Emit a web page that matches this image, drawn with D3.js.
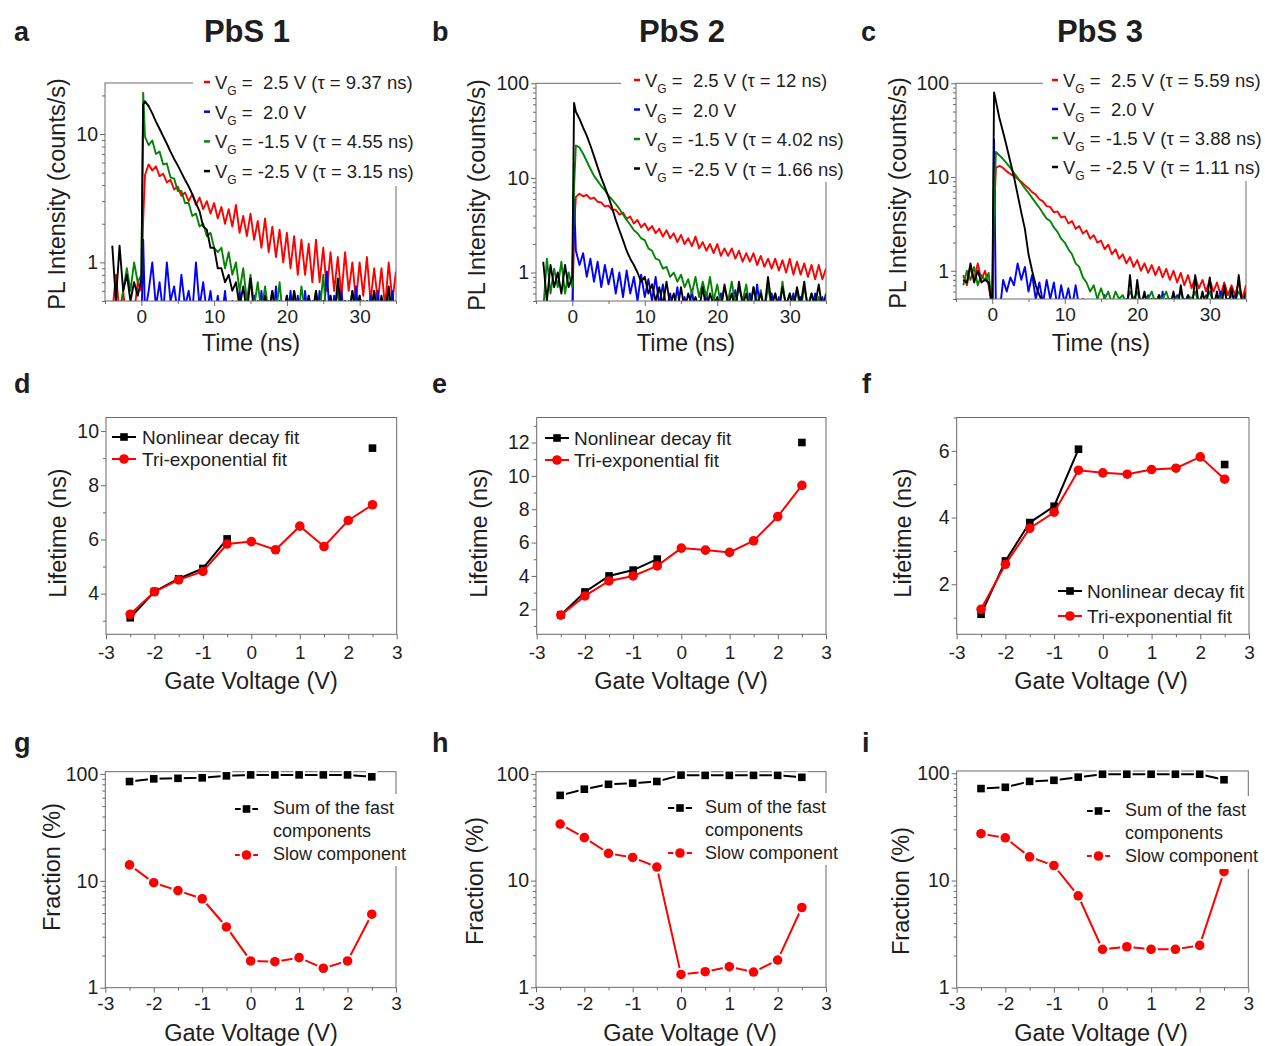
<!DOCTYPE html>
<html>
<head>
<meta charset="utf-8">
<script src="https://d3js.org/d3.v7.min.js"></script>
<style>
  body { margin: 0; background: #ffffff; }
  text { font-family: "Liberation Sans", Arial, sans-serif; fill: #1e1e1e; }
</style>
</head>
<body>
<svg width="1265" height="1046"></svg>
<script>
// ---------------- data ----------------

// time grid of the PL decay traces (ns)
const timeNs = d3.range(-4, 0.01, 0.5).concat([0.25], d3.range(0.5, 35.01, 0.5));

// PbS 1 decays (counts/s)
const pbs1Red = [
  0.4, 0.8, 0.4, 0.6, 0.3, 0.5, 0.4, 0.7, 0.6, 2.2,
  4.8, 5.8, 5.2, 5.6, 4.7, 4.9, 4.2, 4.4, 3.7, 3.9,
  3.3, 3.5, 3.0, 3.4, 2.8, 3.2, 2.6, 3.0, 2.4, 2.9,
  2.2, 2.7, 2.0, 2.6, 1.9, 2.8, 1.7, 2.3, 1.6, 2.4,
  1.5, 2.1, 1.3, 2.2, 1.2, 1.9, 1.1, 1.8, 1.0, 1.7,
  0.9, 1.6, 0.8, 1.5, 0.8, 1.4, 0.7, 1.5, 0.7, 1.3,
  0.6, 1.2, 0.6, 1.1, 0.55, 1.2, 0.6, 1.0, 0.5, 1.0,
  0.55, 1.1, 0.5, 0.9, 0.5, 0.9, 0.45, 1.0, 0.5, 0.85];
const pbs1Blue = [
  0.3, 0.3, 0.3, 0.3, 0.3, 0.3, 0.3, 0.3, 0.3, 1.5,
  0.4, 0.6, 1.0, 0.45, 0.7, 0.4, 1.0, 0.5, 0.65, 0.4,
  0.8, 0.45, 0.6, 0.4, 1.0, 0.45, 0.7, 0.4, 0.6, 0.35,
  0.55, 0.35, 0.6, 0.3, 0.5, 0.3, 0.6, 0.35, 0.45, 0.3,
  0.55, 0.3, 0.6, 0.3, 0.5, 0.3, 0.65, 0.3, 0.45, 0.3,
  0.6, 0.3, 0.55, 0.3, 0.6, 0.3, 0.5, 0.3, 0.6, 0.35,
  0.85, 0.3, 0.55, 0.3, 0.6, 0.3, 0.5, 0.3, 0.65, 0.3,
  0.5, 0.3, 0.55, 0.3, 0.6, 0.3, 0.5, 0.3, 0.6, 0.3];
const pbs1Green = [
  0.4, 0.5, 0.4, 0.6, 0.9, 0.6, 1.0, 0.7, 0.8, 21,
  9.5, 8.2, 8.9, 7.0, 7.3, 5.8, 5.9, 4.6, 4.5, 3.6,
  3.6, 2.9, 2.9, 2.3, 2.4, 1.9, 2.0, 1.6, 1.7, 1.3,
  1.2, 1.3, 0.9, 1.2, 0.8, 1.0, 0.6, 0.9, 0.5, 0.8,
  0.45, 0.7, 0.4, 0.65, 0.4, 0.6, 0.4, 0.7, 0.35, 0.55,
  0.4, 0.6, 0.35, 0.65, 0.4, 0.55, 0.35, 0.6, 0.4, 0.8,
  0.35, 0.55, 0.4, 0.6, 0.35, 0.5, 0.4, 0.6, 0.35, 0.55,
  0.4, 0.5, 0.35, 0.6, 0.4, 0.5, 0.35, 0.55, 0.4, 0.5];
const pbs1Black = [
  1.35, 0.5, 1.35, 0.6, 0.8, 0.5, 0.7, 0.55, 0.75, 17,
  18, 16.5, 14.5, 12.5, 11, 9.6, 8.4, 7.3, 6.4, 5.7,
  5.0, 4.4, 3.9, 3.4, 2.9, 2.5, 1.9, 1.8, 1.3, 1.3,
  0.9, 0.9, 0.7, 0.8, 0.6, 0.7, 0.45, 0.65, 0.4, 0.75,
  0.4, 0.5, 0.35, 0.55, 0.4, 0.6, 0.35, 0.5, 0.4, 0.55,
  0.35, 0.6, 0.4, 0.5, 0.35, 0.55, 0.4, 0.6, 0.35, 0.5,
  0.4, 0.55, 0.35, 0.75, 0.4, 0.5, 0.35, 0.6, 0.4, 0.55,
  0.35, 0.5, 0.4, 0.6, 0.35, 0.55, 0.4, 0.65, 0.35, 0.5];

// PbS 2 decays
const pbs2Red = [
  0.3, 0.4, 0.3, 0.35, 0.3, 0.4, 0.3, 0.35, 0.3, 3.0,
  6.3, 6.8, 6.4, 6.6, 6.0, 6.2, 5.6, 5.5, 5.0, 5.1,
  4.6, 4.6, 4.1, 4.3, 3.7, 3.9, 3.3, 3.6, 3.0, 3.3,
  2.8, 3.1, 2.6, 2.9, 2.4, 2.8, 2.3, 2.6, 2.1, 2.5,
  2.0, 2.3, 1.9, 2.4, 1.8, 2.1, 1.7, 2.0, 1.6, 2.0,
  1.5, 1.8, 1.5, 1.8, 1.4, 1.7, 1.3, 1.6, 1.3, 1.6,
  1.2, 1.5, 1.15, 1.4, 1.1, 1.4, 1.05, 1.35, 1.0, 1.4,
  0.95, 1.3, 0.95, 1.25, 0.9, 1.2, 0.85, 1.2, 0.85, 1.1];
const pbs2Blue = [
  0.3, 0.3, 0.3, 0.3, 0.3, 0.3, 0.3, 0.3, 0.3, 6.0,
  1.7, 1.2, 1.6, 0.9, 1.4, 0.8, 1.3, 0.7, 1.2, 0.75,
  1.1, 0.6, 1.0, 0.55, 1.05, 0.6, 0.9, 0.5, 0.95, 0.55,
  0.85, 0.5, 0.9, 0.45, 0.75, 0.4, 0.6, 0.4, 0.7, 0.35,
  0.55, 0.35, 0.65, 0.35, 0.5, 0.35, 0.6, 0.35, 0.55, 0.35,
  0.6, 0.35, 0.5, 0.35, 0.65, 0.35, 0.55, 0.35, 0.6, 0.35,
  0.75, 0.35, 0.5, 0.35, 0.6, 0.35, 0.55, 0.35, 0.5, 0.35,
  0.6, 0.35, 0.55, 0.35, 0.5, 0.35, 0.6, 0.35, 0.55, 0.35];
const pbs2Green = [
  0.4, 1.4, 0.6, 1.1, 0.7, 1.3, 0.6, 1.0, 0.7, 8,
  22, 21, 18, 15, 12.5, 10.5, 9.3, 8.2, 7.4, 6.5,
  5.9, 5.3, 4.7, 4.1, 3.6, 3.2, 2.8, 2.6, 2.3, 2.2,
  1.8, 1.7, 1.4, 1.35, 1.1, 1.15, 0.9, 1.0, 0.8, 0.95,
  0.7, 0.85, 0.6, 0.9, 0.55, 0.8, 0.55, 0.9, 0.5, 0.75,
  0.45, 0.7, 0.5, 0.8, 0.45, 0.7, 0.5, 0.75, 0.4, 0.7,
  0.45, 0.65, 0.4, 0.7, 0.45, 0.6, 0.4, 0.8, 0.4, 0.6,
  0.45, 0.65, 0.4, 0.7, 0.45, 0.6, 0.4, 0.55, 0.4, 0.5];
const pbs2Black = [
  1.3, 0.5, 1.2, 0.7, 1.0, 0.6, 1.2, 0.7, 0.9, 62,
  50, 42, 34, 28, 22, 17, 13, 10, 8, 6.3,
  4.8, 3.6, 2.8, 2.2, 1.7, 1.4, 1.2, 1.0, 0.8, 0.9,
  0.6, 0.75, 0.5, 0.7, 0.45, 0.8, 0.45, 0.6, 0.4, 0.7,
  0.4, 0.6, 0.45, 0.55, 0.4, 0.7, 0.4, 0.6, 0.45, 0.55,
  0.4, 0.75, 0.45, 0.6, 0.4, 0.8, 0.45, 0.6, 0.4, 0.7,
  0.45, 0.6, 0.4, 0.9, 0.45, 0.6, 0.4, 0.7, 0.45, 0.6,
  0.4, 0.7, 0.45, 0.8, 0.4, 0.6, 0.45, 0.75, 0.4, 0.6];

// PbS 3 decays
const pbs3Red = [
  0.9, 0.7, 1.1, 0.8, 1.2, 0.8, 1.0, 0.7, 0.4, 4,
  12.5, 13.2, 12.5, 11.5, 10.8, 10.2, 9.6, 8.9, 8.2, 7.6,
  6.9, 6.5, 5.8, 5.5, 4.9, 4.8, 4.2, 4.3, 3.7, 3.8,
  3.2, 3.4, 2.8, 3.0, 2.5, 2.7, 2.2, 2.4, 2.0, 2.1,
  1.7, 1.9, 1.5, 1.7, 1.35, 1.5, 1.2, 1.4, 1.1, 1.3,
  1.0, 1.2, 0.95, 1.15, 0.9, 1.1, 0.85, 1.05, 0.8, 1.0,
  0.75, 0.95, 0.7, 0.9, 0.65, 0.85, 0.65, 0.8, 0.6, 0.8,
  0.6, 0.75, 0.55, 0.75, 0.55, 0.7, 0.55, 0.75, 0.5, 0.7];
const pbs3Blue = [
  0.3, 0.3, 0.3, 0.3, 0.3, 0.3, 0.3, 0.3, 0.3, 25,
  0.4, 0.35, 0.8, 0.6, 0.85, 0.7, 1.2, 0.8, 1.1, 0.6,
  0.9, 0.5, 0.75, 0.45, 0.8, 0.5, 0.75, 0.4, 0.7, 0.45,
  0.65, 0.4, 0.7, 0.4, 0.5, 0.3, 0.45, 0.3, 0.5, 0.3,
  0.55, 0.3, 0.45, 0.3, 0.5, 0.3, 0.5, 0.3, 0.45, 0.3,
  0.5, 0.3, 0.55, 0.3, 0.5, 0.3, 0.6, 0.3, 0.5, 0.3,
  0.55, 0.3, 0.5, 0.3, 0.45, 0.3, 0.5, 0.3, 0.55, 0.3,
  0.5, 0.3, 0.6, 0.3, 0.5, 0.3, 0.55, 0.3, 0.5, 0.3];
const pbs3Green = [
  0.7, 1.0, 0.8, 1.1, 0.7, 0.9, 0.8, 0.95, 0.4, 5,
  18.5, 17, 15.5, 14, 12.5, 11, 9.8, 8.6, 7.6, 6.8,
  6.0, 5.3, 4.7, 4.1, 3.6, 3.4, 2.9, 2.6, 2.2, 2.0,
  1.7, 1.5, 1.2, 1.1, 0.85, 0.75, 0.6, 0.7, 0.5, 0.65,
  0.5, 0.6, 0.45, 0.6, 0.5, 0.55, 0.45, 0.6, 0.5, 0.6,
  0.45, 0.55, 0.5, 0.6, 0.45, 0.55, 0.5, 0.6, 0.45, 0.55,
  0.5, 0.6, 0.45, 0.55, 0.5, 0.6, 0.45, 0.55, 0.5, 0.6,
  0.45, 0.55, 0.5, 0.6, 0.45, 0.55, 0.5, 0.6, 0.5, 0.55];
const pbs3Black = [
  0.8, 0.75, 1.2, 0.75, 1.0, 0.75, 0.8, 0.75, 0.4, 80,
  65, 42, 30, 21, 14.5, 10, 6.5, 4.2, 2.8, 1.5,
  1.0, 0.7, 0.55, 0.45, 0.4, 0.4, 0.35, 0.4, 0.35, 0.4,
  0.35, 0.45, 0.35, 0.4, 0.35, 0.45, 0.35, 0.4, 0.35, 0.45,
  0.35, 0.4, 0.35, 0.45, 0.35, 0.4, 0.35, 0.9, 0.35, 0.8,
  0.4, 0.6, 0.35, 0.5, 0.4, 0.55, 0.35, 0.5, 0.4, 0.6,
  0.35, 0.7, 0.4, 0.55, 0.35, 0.9, 0.4, 0.6, 0.4, 0.85,
  0.4, 0.6, 0.35, 0.7, 0.4, 0.65, 0.4, 0.9, 0.4, 0.6];

const decayLegend1 = ["=  2.5 V (τ = 9.37 ns)", "=  2.0 V", "= -1.5 V (τ = 4.55 ns)", "= -2.5 V (τ = 3.15 ns)"];
const decayLegend2 = ["=  2.5 V (τ = 12 ns)", "=  2.0 V", "= -1.5 V (τ = 4.02 ns)", "= -2.5 V (τ = 1.66 ns)"];
const decayLegend3 = ["=  2.5 V (τ = 5.59 ns)", "=  2.0 V", "= -1.5 V (τ = 3.88 ns)", "= -2.5 V (τ = 1.11 ns)"];

// gate-voltage sweeps
const gateV = [-2.5, -2, -1.5, -1, -0.5, 0, 0.5, 1, 1.5, 2, 2.5];

const lifeNonlin1 = [3.11, 4.08, 4.55, 4.93, 6.02, null, null, null, null, null, 9.37];
const lifeTri1 = [3.24, 4.07, 4.51, 4.82, 5.83, 5.92, 5.62, 6.49, 5.74, 6.70, 7.28];
const lifeNonlin2 = [1.66, 3.04, 4.0, 4.35, 5.01, null, null, null, null, null, 12.0];
const lifeTri2 = [1.65, 2.8, 3.7, 4.0, 4.6, 5.67, 5.55, 5.41, 6.11, 7.56, 9.43];
const lifeNonlin3 = [1.10, 2.70, 3.85, 4.34, 6.05, null, null, null, null, null, 5.59];
const lifeTri3 = [1.25, 2.60, 3.68, 4.16, 5.42, 5.34, 5.30, 5.44, 5.48, 5.82, 5.15];

const fracFast1 = [85, 90, 91, 92, 96, 98, 98, 98, 98, 98, 94];
const fracSlow1 = [14.1, 9.6, 8.1, 6.8, 3.7, 1.78, 1.75, 1.91, 1.52, 1.78, 4.87];
const fracFast2 = [63, 72, 80, 82, 85, 97.5, 97, 97, 97, 97, 93];
const fracSlow2 = [33.9, 25.3, 18.0, 16.5, 13.4, 1.32, 1.40, 1.56, 1.39, 1.80, 5.6];
const fracFast3 = [72, 74, 84, 86, 92, 98, 98, 98, 98, 98, 87];
const fracSlow3 = [27.3, 25, 16.6, 13.8, 7.2, 2.28, 2.41, 2.28, 2.28, 2.48, 12.1];

// tick values
const timeTicks = [0, 10, 20, 30];
const timeMinor = [-5, 5, 15, 25, 35];
const gateTicks = [-3, -2, -1, 0, 1, 2, 3];
const gateMinor = [-2.5, -1.5, -0.5, 0.5, 1.5, 2.5];
const lifeTicks1 = [4, 6, 8, 10], lifeMinor1 = [3, 5, 7, 9];
const lifeTicks2 = [2, 4, 6, 8, 10, 12], lifeMinor2 = [1, 3, 5, 7, 9, 11, 13];
const lifeTicks3 = [2, 4, 6], lifeMinor3 = [1, 3, 5, 7];

// ---------------- drawing ----------------
const svg = d3.select("svg");
const frameColor = "#6a6a6a";
const RED = "#ff0000", BLUE = "#0000ff", GREEN = "#058405", BLACK = "#000000";
const TITLE_FS = 23.5;

function styleAxis(sel, fontSize) {
  sel.select(".domain").remove();
  sel.selectAll("line").attr("stroke", frameColor);
  sel.selectAll("text").style("font-size", fontSize + "px")
    .style("font-family", '"Liberation Sans", Arial, sans-serif').attr("fill", "#1e1e1e");
}

function axes(g, x, y, box, o) {
  g.append("g").attr("transform", `translate(0,${box.y1})`)
    .call(d3.axisBottom(x).tickValues(o.xMinor).tickSize(3).tickFormat(""))
    .call(styleAxis, 19);
  g.append("g").attr("transform", `translate(0,${box.y1})`)
    .call(d3.axisBottom(x).tickValues(o.xMajor).tickSize(5).tickPadding(o.xPad).tickFormat(d => String(d)))
    .call(styleAxis, 19);
  g.append("g").attr("transform", `translate(${box.x0},0)`)
    .call(d3.axisLeft(y).tickValues(o.yMinor).tickSize(3).tickFormat(""))
    .call(styleAxis, 19);
  g.append("g").attr("transform", `translate(${box.x0},0)`)
    .call(d3.axisLeft(y).tickValues(o.yMajor).tickSize(5).tickPadding(2).tickFormat(d => String(d)))
    .call(styleAxis, 19.5);
}

function frame(g, box) {
  g.append("rect").attr("x", box.x0).attr("y", box.y0)
    .attr("width", box.x1 - box.x0).attr("height", box.y1 - box.y0)
    .attr("fill", "none").attr("stroke", frameColor).attr("stroke-width", 1);
}

function titles(g, p) {
  g.append("text").attr("x", p.letter[0]).attr("y", p.letter[1])
    .style("font-size", "27px").style("font-weight", "bold").attr("fill", "#000").text(p.key);
  g.append("text").attr("transform", `translate(${p.yl[0]},${p.yl[1]}) rotate(-90)`)
    .attr("text-anchor", "middle").attr("dy", "0.35em").style("font-size", TITLE_FS + "px").text(p.ylabel);
  g.append("text").attr("x", p.xl[0]).attr("y", p.xl[1])
    .attr("text-anchor", "middle").style("font-size", TITLE_FS + "px").text(p.xlabel);
}

function logMinor(y) {
  return y.ticks().filter(v => Math.abs(Math.log10(v) - Math.round(Math.log10(v))) > 1e-6);
}

// --- top row: PL decay traces ---
function decayPanel(p) {
  const g = svg.append("g");
  const b = p.box;
  const x = d3.scaleLinear().domain([-5, 35]).range([b.x0, b.x1]);
  const y = d3.scaleLog().domain([0.5, p.yMax]).range([b.y1, b.y0]);
  const clipId = "clip-" + p.key;
  svg.append("clipPath").attr("id", clipId).append("rect")
    .attr("x", b.x0).attr("y", b.y0).attr("width", b.x1 - b.x0).attr("height", b.y1 - b.y0);

  const line = d3.line().x((d, i) => x(timeNs[i])).y(d => y(d));
  const tr = g.append("g").attr("clip-path", `url(#${clipId})`);
  p.series.forEach(s => {
    tr.append("path").datum(s.values).attr("d", line)
      .attr("fill", "none").attr("stroke", s.color)
      .attr("stroke-width", 1.9).attr("stroke-linejoin", "round");
  });

  frame(g, b);
  axes(g, x, y, b, {
    xMajor: timeTicks, xMinor: timeMinor, xPad: 4,
    yMajor: p.yMajor, yMinor: logMinor(y)
  });

  // legend (white box over the frame corner)
  const L = p.legend;
  g.append("rect").attr("x", L.bg[0]).attr("y", L.bg[1])
    .attr("width", L.bg[2]).attr("height", L.bg[3]).attr("fill", "#fff");
  p.series.forEach((s, i) => {
    const cy = L.y + i * L.dy;
    g.append("line").attr("x1", L.x).attr("x2", L.x + 6).attr("y1", cy).attr("y2", cy)
      .attr("stroke", s.color).attr("stroke-width", 2.5);
    const t = g.append("text").attr("x", L.x + 11).attr("y", cy + 7)
      .style("font-size", "18.5px").style("white-space", "pre");
    t.append("tspan").text("V");
    t.append("tspan").attr("dy", 6).style("font-size", "12px").text("G");
    t.append("tspan").attr("dy", -6).text(" " + s.label);
  });

  titles(g, p);
  g.append("text").attr("x", p.title[0]).attr("y", p.title[1]).attr("text-anchor", "middle")
    .style("font-size", "31px").style("font-weight", "bold").attr("fill", "#000").text(p.name);
}

// marker, optionally with a white halo so the line stops short of it
function marker(sel, kind, color, cx, cy, halo) {
  const shapes = halo ? [["#fff", 2], [color, 0]] : [[color, 0]];
  shapes.forEach(([fill, pad]) => {
    if (kind === "square") {
      const h = 3.8 + pad;
      sel.append("rect").attr("x", cx - h).attr("y", cy - h).attr("width", 2 * h).attr("height", 2 * h)
        .attr("fill", fill);
    } else {
      sel.append("circle").attr("cx", cx).attr("cy", cy).attr("r", 4.8 + pad).attr("fill", fill);
    }
  });
}

// --- middle and bottom rows: gate-voltage sweeps ---
function sweepPanel(p) {
  const g = svg.append("g");
  const b = p.box;
  const x = d3.scaleLinear().domain([-3, 3]).range([b.x0, b.x1]);
  const y = p.log
    ? d3.scaleLog().domain(p.yDomain).range([b.y1, b.y0])
    : d3.scaleLinear().domain(p.yDomain).range([b.y1, b.y0]);

  frame(g, b);
  axes(g, x, y, b, {
    xMajor: gateTicks, xMinor: gateMinor, xPad: p.log ? 4 : 6,
    yMajor: p.yMajor, yMinor: p.log ? logMinor(y) : p.yMinor
  });

  const line = d3.line().defined(d => d[1] != null).x(d => x(d[0])).y(d => y(d[1]));
  p.series.forEach(s => {
    const pts = gateV.map((v, i) => [v, s.values[i]]);
    g.append("path").datum(pts).attr("d", line)
      .attr("fill", "none").attr("stroke", s.color).attr("stroke-width", 2);
    const mk = g.append("g");
    pts.filter(d => d[1] != null).forEach(d => marker(mk, s.shape, s.color, x(d[0]), y(d[1]), p.log));
  });

  // legend
  const L = p.legend;
  if (L.bg) {
    g.append("rect").attr("x", L.bg[0]).attr("y", L.bg[1])
      .attr("width", L.bg[2]).attr("height", L.bg[3]).attr("fill", "#fff");
  }
  p.series.forEach((s, i) => {
    const cy = L.rows[i];
    g.append("line").attr("x1", L.x).attr("x2", L.x + L.w).attr("y1", cy).attr("y2", cy)
      .attr("stroke", s.color).attr("stroke-width", 2);
    marker(g, s.shape, s.color, L.x + L.w / 2, cy, p.log);
    s.label.forEach((txt, k) => {
      g.append("text").attr("x", L.tx).attr("y", L.textRows[i] + k * L.lineGap + 7)
        .style("font-size", L.fs + "px").text(txt);
    });
  });

  titles(g, p);
}

// ---------------- panels ----------------
decayPanel({
  key: "a", name: "PbS 1", title: [247, 42], letter: [14, 41],
  box: {x0: 105, x1: 396, y0: 83, y1: 301}, yMax: 25, yMajor: [1, 10],
  ylabel: "PL Intensity (counts/s)", yl: [57, 194], xlabel: "Time (ns)", xl: [251, 351],
  legend: {x: 204, y: 82, dy: 29.7, bg: [193, 64, 230, 122]},
  series: [
    {values: pbs1Red, color: RED, label: decayLegend1[0]},
    {values: pbs1Blue, color: BLUE, label: decayLegend1[1]},
    {values: pbs1Green, color: GREEN, label: decayLegend1[2]},
    {values: pbs1Black, color: BLACK, label: decayLegend1[3]}
  ]
});
decayPanel({
  key: "b", name: "PbS 2", title: [682, 42], letter: [432, 41],
  box: {x0: 536, x1: 826, y0: 83.3, y1: 301}, yMax: 100, yMajor: [1, 10, 100],
  ylabel: "PL Intensity (counts/s)", yl: [477, 195], xlabel: "Time (ns)", xl: [686, 351],
  legend: {x: 634, y: 80, dy: 29.5, bg: [621, 64, 235, 118]},
  series: [
    {values: pbs2Red, color: RED, label: decayLegend2[0]},
    {values: pbs2Blue, color: BLUE, label: decayLegend2[1]},
    {values: pbs2Green, color: GREEN, label: decayLegend2[2]},
    {values: pbs2Black, color: BLACK, label: decayLegend2[3]}
  ]
});
decayPanel({
  key: "c", name: "PbS 3", title: [1100, 42], letter: [861, 41],
  box: {x0: 956, x1: 1246, y0: 83.3, y1: 299}, yMax: 100, yMajor: [1, 10, 100],
  ylabel: "PL Intensity (counts/s)", yl: [898, 193], xlabel: "Time (ns)", xl: [1101, 351],
  legend: {x: 1052, y: 80, dy: 29, bg: [1043, 64, 222, 117]},
  series: [
    {values: pbs3Red, color: RED, label: decayLegend3[0]},
    {values: pbs3Blue, color: BLUE, label: decayLegend3[1]},
    {values: pbs3Green, color: GREEN, label: decayLegend3[2]},
    {values: pbs3Black, color: BLACK, label: decayLegend3[3]}
  ]
});

const lifeSeries = (nl, tri) => [
  {values: nl, color: BLACK, shape: "square", label: ["Nonlinear decay fit"]},
  {values: tri, color: RED, shape: "circle", label: ["Tri-exponential fit"]}
];
sweepPanel({
  key: "d", letter: [14, 393], box: {x0: 106, x1: 396.7, y0: 417.5, y1: 634.3},
  yDomain: [2.5, 10.5], yMajor: lifeTicks1, yMinor: lifeMinor1,
  ylabel: "Lifetime (ns)", yl: [58, 533], xlabel: "Gate Voltage (V)", xl: [251, 689],
  legend: {x: 112, w: 24, tx: 142, rows: [437, 459], textRows: [437, 459], lineGap: 0, fs: 19},
  series: lifeSeries(lifeNonlin1, lifeTri1)
});
sweepPanel({
  key: "e", letter: [432, 393], box: {x0: 536.7, x1: 826, y0: 417.5, y1: 634.3},
  yDomain: [0.5, 13.5], yMajor: lifeTicks2, yMinor: lifeMinor2,
  ylabel: "Lifetime (ns)", yl: [479, 533], xlabel: "Gate Voltage (V)", xl: [681, 689],
  legend: {x: 545, w: 24, tx: 574, rows: [438, 460], textRows: [438, 460], lineGap: 0, fs: 19},
  series: lifeSeries(lifeNonlin2, lifeTri2)
});
sweepPanel({
  key: "f", letter: [862, 393], box: {x0: 956.7, x1: 1249, y0: 417.5, y1: 634.3},
  yDomain: [0.5, 7], yMajor: lifeTicks3, yMinor: lifeMinor3,
  ylabel: "Lifetime (ns)", yl: [903, 533], xlabel: "Gate Voltage (V)", xl: [1101, 689],
  legend: {x: 1058, w: 24, tx: 1087, rows: [591, 616], textRows: [591, 616], lineGap: 0, fs: 19},
  series: lifeSeries(lifeNonlin3, lifeTri3)
});

const fracSeries = (fast, slow) => [
  {values: fast, color: BLACK, shape: "square", label: ["Sum of the fast", "components"]},
  {values: slow, color: RED, shape: "circle", label: ["Slow component"]}
];
sweepPanel({
  key: "g", letter: [14, 752], box: {x0: 105.3, x1: 396, y0: 771.7, y1: 987.7}, log: true,
  yDomain: [1, 105], yMajor: [1, 10, 100],
  ylabel: "Fraction (%)", yl: [52, 867], xlabel: "Gate Voltage (V)", xl: [251, 1041],
  legend: {x: 235, w: 23, tx: 273, rows: [809, 855], textRows: [807, 853], lineGap: 23, fs: 18,
           bg: [229, 794, 174, 72]},
  series: fracSeries(fracFast1, fracSlow1)
});
sweepPanel({
  key: "h", letter: [432, 752], box: {x0: 536, x1: 826, y0: 771.7, y1: 987.3}, log: true,
  yDomain: [1, 105], yMajor: [1, 10, 100],
  ylabel: "Fraction (%)", yl: [475, 881], xlabel: "Gate Voltage (V)", xl: [690, 1041],
  legend: {x: 668, w: 24, tx: 705, rows: [808, 853], textRows: [806, 852], lineGap: 23, fs: 18,
           bg: [662, 793, 185, 72]},
  series: fracSeries(fracFast2, fracSlow2)
});
sweepPanel({
  key: "i", letter: [862, 752], box: {x0: 956.7, x1: 1248.3, y0: 771, y1: 987.7}, log: true,
  yDomain: [1, 105], yMajor: [1, 10, 100],
  ylabel: "Fraction (%)", yl: [901, 891], xlabel: "Gate Voltage (V)", xl: [1101, 1041],
  legend: {x: 1087, w: 23, tx: 1125, rows: [811, 856], textRows: [809, 855], lineGap: 23, fs: 18,
           bg: [1081, 796, 184, 73]},
  series: fracSeries(fracFast3, fracSlow3)
});
</script>
</body>
</html>
